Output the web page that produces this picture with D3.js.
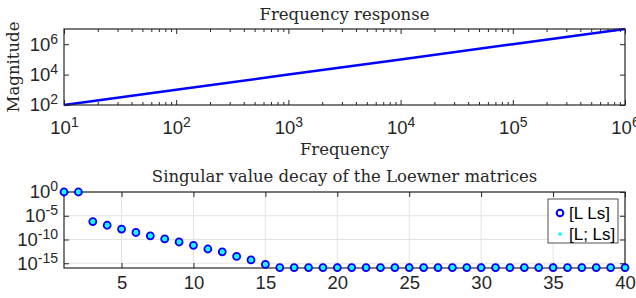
<!DOCTYPE html>
<html>
<head>
<meta charset="utf-8">
<script src="https://cdn.jsdelivr.net/npm/d3@7"></script>
<style>
    body { margin: 0; background: #fff; }
    .serif-text { font-family: "DejaVu Serif", serif; font-size: 16.5px; fill: #262626; }
</style>
</head>
<body>
<div id="chart"></div>
<script>

// ---- data ----
const freqValues = [1e1, 1e2, 1e3, 1e4, 1e5, 1e6];
const magnitudeValues = [1e2, 1e3, 1e4, 1e5, 1e6, 1e7];
const freqTicks = [1e1, 1e2, 1e3, 1e4, 1e5, 1e6];
const magTicks = [1e2, 1e4, 1e6];

const svIndex = [1, 2, 3, 4, 5, 6, 7, 8, 9, 10,
    11, 12, 13, 14, 15, 16, 17, 18, 19, 20,
    21, 22, 23, 24, 25, 26, 27, 28, 29, 30,
    31, 32, 33, 34, 35, 36, 37, 38, 39, 40];
const svRow = [1, 1, 6e-7, 1e-7, 1.6e-8, 3e-9, 6e-10, 1.3e-10, 3e-11, 6e-12,
    1e-12, 2.5e-13, 2.8e-14, 5e-15, 5.6e-16, 1.2e-16, 1.2e-16, 1.2e-16, 1.2e-16, 1.2e-16,
    1.2e-16, 1.2e-16, 1.2e-16, 1.2e-16, 1.2e-16, 1.2e-16, 1.2e-16, 1.2e-16, 1.2e-16, 1.2e-16,
    1.2e-16, 1.2e-16, 1.2e-16, 1.2e-16, 1.2e-16, 1.2e-16, 1.2e-16, 1.2e-16, 1.2e-16, 1.2e-16];
const svCol = [1, 1, 6e-7, 1e-7, 1.6e-8, 3e-9, 6e-10, 1.3e-10, 3e-11, 6e-12,
    1e-12, 2.5e-13, 2.8e-14, 5e-15, 5.6e-16, 1.2e-16, 1.2e-16, 1.2e-16, 1.2e-16, 1.2e-16,
    1.2e-16, 1.2e-16, 1.2e-16, 1.2e-16, 1.2e-16, 1.2e-16, 1.2e-16, 1.2e-16, 1.2e-16, 1.2e-16,
    1.2e-16, 1.2e-16, 1.2e-16, 1.2e-16, 1.2e-16, 1.2e-16, 1.2e-16, 1.2e-16, 1.2e-16, 1.2e-16];
const svXTicks = [5, 10, 15, 20, 25, 30, 35, 40];
const svYTicks = [1e0, 1e-5, 1e-10, 1e-15];
const legendLabels = ["[L Ls]", "[L; Ls]"];

const axisColor = "#262626";
const gridColor = "#e3e3e3";
const sansFont = "'Liberation Sans', Arial, Helvetica, sans-serif";

let svg = d3.select("#chart").append("svg")
    .attr("width", 636)
    .attr("height", 298);

function styleTickText(t) {
    t.attr("fill", axisColor)
        .style("font-family", sansFont)
        .style("font-size", "18.5px");
}

// write 10^k tick labels with a raised exponent
function powerLabels(sel) {
    sel.selectAll(".tick text").each(function(d) {
        let t = d3.select(this).call(styleTickText);
        t.text(null);
        t.append("tspan").text("10");
        t.append("tspan")
            .attr("dy", "-0.5em")
            .style("font-size", "14px")
            .text(Math.round(Math.log10(d)));
    });
}

function cleanAxis(g) {
    g.select(".domain").remove();
    g.selectAll(".tick line").attr("stroke", axisColor);
}

/*
 * Top panel: frequency response
 */
let box1 = {left: 64, top: 29, width: 561, height: 76};
let g1 = svg.append("g").attr("transform", "translate(" + box1.left + "," + box1.top + ")");

let x1 = d3.scaleLog().domain([1e1, 1e6]).range([0, box1.width]);
let y1 = d3.scaleLog().domain([1e2, 1e7]).range([box1.height, 0]);

let minorTicks = x1.ticks().filter(d => !freqTicks.includes(d));

// minor ticks (bottom and top)
g1.append("g").attr("transform", "translate(0," + box1.height + ")")
    .call(d3.axisBottom(x1).tickValues(minorTicks).tickSize(-3).tickFormat(""))
    .call(cleanAxis);
g1.append("g")
    .call(d3.axisTop(x1).tickValues(minorTicks).tickSize(-3).tickFormat(""))
    .call(cleanAxis);

g1.append("g").attr("transform", "translate(0," + box1.height + ")")
    .call(d3.axisBottom(x1).tickValues(freqTicks).tickSize(-5).tickPadding(16))
    .call(cleanAxis)
    .call(powerLabels);
g1.append("g")
    .call(d3.axisTop(x1).tickValues(freqTicks).tickSize(-5).tickFormat(""))
    .call(cleanAxis);
g1.append("g")
    .call(d3.axisLeft(y1).tickValues(magTicks).tickSize(-5).tickPadding(6))
    .call(cleanAxis)
    .call(powerLabels);
g1.append("g").attr("transform", "translate(" + box1.width + ",0)")
    .call(d3.axisRight(y1).tickValues(magTicks).tickSize(-5).tickFormat(""))
    .call(cleanAxis);

g1.append("path")
    .datum(freqValues.map((f, i) => [f, magnitudeValues[i]]))
    .attr("fill", "none")
    .attr("stroke", "#0000ff")
    .attr("stroke-width", 2.5)
    .attr("d", d3.line().x(d => x1(d[0])).y(d => y1(d[1])));

g1.append("rect")
    .attr("width", box1.width)
    .attr("height", box1.height)
    .attr("fill", "none")
    .attr("stroke", axisColor)
    .attr("stroke-width", 1.2);

g1.append("text")
    .attr("class", "serif-text")
    .attr("x", box1.width / 2)
    .attr("y", -9)
    .attr("text-anchor", "middle")
    .text("Frequency response");

g1.append("text")
    .attr("class", "serif-text")
    .attr("x", box1.width / 2)
    .attr("y", box1.height + 50)
    .attr("text-anchor", "middle")
    .text("Frequency");

g1.append("text")
    .attr("class", "serif-text")
    .attr("transform", "translate(-45," + box1.height / 2 + ") rotate(-90)")
    .attr("text-anchor", "middle")
    .text("Magnitude");

/*
 * Bottom panel: singular value decay
 */
let box2 = {left: 64, top: 192, width: 561, height: 76};
let g2 = svg.append("g").attr("transform", "translate(" + box2.left + "," + box2.top + ")");

let x2 = d3.scaleLinear().domain([1, 40]).range([0, box2.width]);
let y2 = d3.scaleLog().domain([1e-16, 1e0]).range([box2.height, 0]);

// grid
g2.append("g").selectAll("line").data(svXTicks).join("line")
    .attr("x1", d => x2(d)).attr("x2", d => x2(d))
    .attr("y1", 0).attr("y2", box2.height)
    .attr("stroke", gridColor);
g2.append("g").selectAll("line").data(svYTicks).join("line")
    .attr("x1", 0).attr("x2", box2.width)
    .attr("y1", d => y2(d)).attr("y2", d => y2(d))
    .attr("stroke", gridColor);

g2.append("g").attr("transform", "translate(0," + box2.height + ")")
    .call(d3.axisBottom(x2).tickValues(svXTicks).tickSize(-5).tickPadding(8))
    .call(cleanAxis)
    .call(g => g.selectAll(".tick text").call(styleTickText));
g2.append("g")
    .call(d3.axisTop(x2).tickValues(svXTicks).tickSize(-5).tickFormat(""))
    .call(cleanAxis);
g2.append("g")
    .call(d3.axisLeft(y2).tickValues(svYTicks).tickSize(-5).tickPadding(6))
    .call(cleanAxis)
    .call(powerLabels);
g2.append("g").attr("transform", "translate(" + box2.width + ",0)")
    .call(d3.axisRight(y2).tickValues(svYTicks).tickSize(-5).tickFormat(""))
    .call(cleanAxis);

g2.append("rect")
    .attr("width", box2.width)
    .attr("height", box2.height)
    .attr("fill", "none")
    .attr("stroke", axisColor)
    .attr("stroke-width", 1.2);

g2.append("g").selectAll("circle")
    .data(svIndex.map((k, i) => [k, svRow[i]]))
    .join("circle")
    .attr("cx", d => x2(d[0]))
    .attr("cy", d => y2(d[1]))
    .attr("r", 3.4)
    .attr("fill", "none")
    .attr("stroke", "#0000ff")
    .attr("stroke-width", 2);

g2.append("g").selectAll("circle")
    .data(svIndex.map((k, i) => [k, svCol[i]]))
    .join("circle")
    .attr("cx", d => x2(d[0]))
    .attr("cy", d => y2(d[1]))
    .attr("r", 2.4)
    .attr("fill", "#00ffff");

g2.append("text")
    .attr("class", "serif-text")
    .attr("x", box2.width / 2)
    .attr("y", -10)
    .attr("text-anchor", "middle")
    .text("Singular value decay of the Loewner matrices");

// legend
let legend = g2.append("g").attr("transform", "translate(" + (box2.width - 77) + ",7)");
legend.append("rect")
    .attr("width", 70)
    .attr("height", 44)
    .attr("fill", "#fff")
    .attr("stroke", axisColor)
    .attr("stroke-width", 0.8);
legend.append("circle")
    .attr("cx", 12).attr("cy", 14).attr("r", 3.3)
    .attr("fill", "none").attr("stroke", "#0000ff").attr("stroke-width", 2);
legend.append("circle")
    .attr("cx", 12).attr("cy", 35).attr("r", 1.8)
    .attr("fill", "#00ffff");
legend.selectAll("text").data(legendLabels).join("text")
    .attr("x", 21)
    .attr("y", (d, i) => 20 + i * 21)
    .attr("fill", "#000")
    .style("font-family", sansFont)
    .style("font-size", "17px")
    .text(d => d);

</script>
</body>
</html>
